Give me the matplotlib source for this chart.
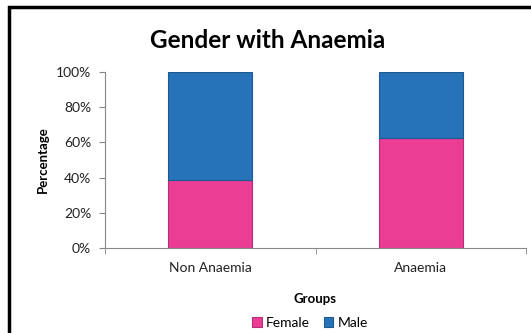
import matplotlib.pyplot as plt
from matplotlib.lines import Line2D

plt.rcParams['font.family'] = ['Lato', 'DejaVu Sans']

groups = ['Non Anaemia', 'Anaemia']
female = [38.6, 62.4]
male = [61.4, 37.6]
y_ticks = [0, 20, 40, 60, 80, 100]
y_labels = ['0%', '20%', '40%', '60%', '80%', '100%']

pink = '#EC3D95'
blue = '#2673B9'

fig = plt.figure(figsize=(5.31, 3.33), dpi=100)
# black frame: only the left and top edges fall inside the picture
fx, fy = 9 / 531, 1 - 7 / 333
fig.add_artist(Line2D([fx, fx, 1.05], [-0.05, fy, fy], transform=fig.transFigure,
                      color='black', linewidth=2.5, solid_joinstyle='miter',
                      solid_capstyle='butt', clip_on=False))

ax = fig.add_axes([105 / 531, 1 - 248 / 333, 421 / 531, 176 / 333])

x = range(len(groups))
ax.bar(x, female, width=0.4, color=pink, edgecolor='#B52F72', linewidth=0.8, label='Female')
ax.bar(x, male, width=0.4, bottom=female, color=blue, edgecolor='#1D5A92', linewidth=0.8, label='Male')

ax.set_xlim(-0.5, 1.5)
ax.set_ylim(0, 100)
ax.set_yticks(y_ticks)
ax.set_yticklabels(y_labels, fontsize=10, color='#222222')
ax.set_xticks(list(x))
ax.set_xticklabels(groups, fontsize=10, color='#222222')
ax.tick_params(axis='x', length=0, pad=10)
ax.set_xticks([-0.5, 0.5, 1.5], minor=True)
ax.tick_params(axis='x', which='minor', length=4, color='#888888', direction='out')
ax.tick_params(axis='y', length=4, color='#888888', pad=6)

ax.spines['top'].set_visible(False)
ax.spines['right'].set_visible(False)
for side in ['left', 'bottom']:
    ax.spines[side].set_color('#888888')

ax.set_ylabel('Percentage', fontsize=9.5, fontweight='bold', labelpad=5)
ax.set_xlabel('Groups', fontsize=9.5, fontweight='bold', labelpad=14)

fig.text(268 / 531, 1 - 40 / 333, 'Gender with Anaemia', ha='center', va='center',
         fontsize=17.5, fontweight='bold')

fig.legend(loc='center', bbox_to_anchor=(310 / 531, 1 - 323 / 333), ncol=2,
           frameon=False, fontsize=10, handlelength=0.7, handleheight=0.7,
           handletextpad=0.3, columnspacing=1.0, borderaxespad=0)

fig.savefig('out.png', dpi=100, facecolor='white')
